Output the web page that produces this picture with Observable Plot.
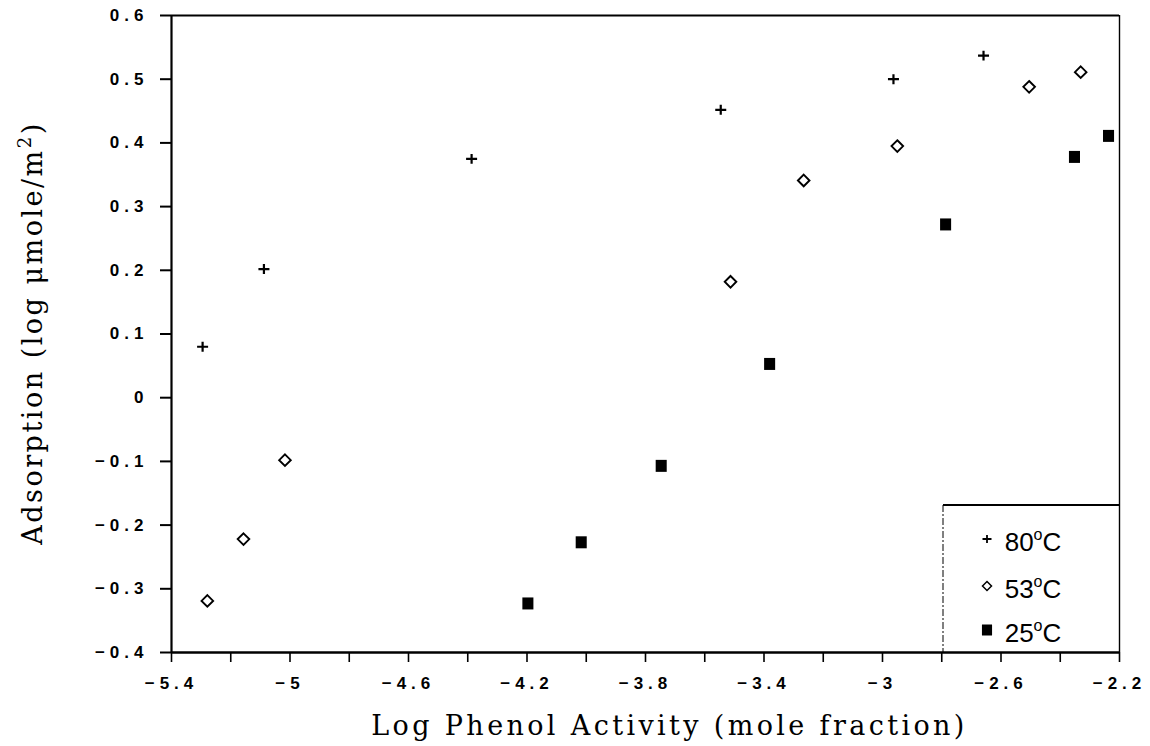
<!DOCTYPE html>
<html>
<head>
<meta charset="utf-8">
<script src="https://cdn.jsdelivr.net/npm/d3@7"></script>
<script src="https://cdn.jsdelivr.net/npm/@observablehq/plot@0.6"></script>
<style>
  html, body { margin: 0; padding: 0; background: white; }
  #chart { width: 1150px; height: 746px; }
</style>
</head>
<body>
<div id="chart"></div>
<script>
// ---- data ----
const x80 = [-5.295, -5.088, -4.387, -3.546, -2.963, -2.659];
const y80 = [0.080, 0.202, 0.375, 0.452, 0.500, 0.537];

const x53 = [-5.279, -5.157, -5.017, -3.513, -3.266, -2.950, -2.505, -2.331];
const y53 = [-0.319, -0.222, -0.098, 0.182, 0.341, 0.395, 0.488, 0.511];

const x25 = [-4.197, -4.017, -3.747, -3.381, -2.787, -2.352, -2.237];
const y25 = [-0.323, -0.227, -0.107, 0.053, 0.272, 0.378, 0.411];

const xDomain = [-5.4, -2.2];
const yDomain = [-0.4, 0.6];
const xTicks = [-5.4, -5, -4.6, -4.2, -3.8, -3.4, -3, -2.6, -2.2];
const xMinorTicks = [-5.2, -4.8, -4.4, -4.0, -3.6, -3.2, -2.8, -2.4];
const yTicks = [-0.4, -0.3, -0.2, -0.1, 0, 0.1, 0.2, 0.3, 0.4, 0.5, 0.6];

const legendLabels = ["80", "53", "25"];
const xTitle = "Log Phenol Activity (mole fraction)";
const yTitleMain = "Adsorption (log \u03bcmole/m";
const yTitleSup = "2";
const yTitleEnd = ")";

// ---- helpers ----
const fmt = d => (d < 0 ? "\u2212" : "") + String(Math.abs(d));
const toRows = (xs, ys) => xs.map((x, i) => ({x, y: ys[i]}));

const plusSym = {draw(ctx, size) {
  const r = Math.sqrt(size / Math.PI);
  ctx.moveTo(-r, 0); ctx.lineTo(r, 0);
  ctx.moveTo(0, -r * 0.9); ctx.lineTo(0, r * 0.9);
}};
const diamondSym = {draw(ctx, size) {
  const r = Math.sqrt(size / Math.PI);
  ctx.moveTo(0, -r); ctx.lineTo(r, 0); ctx.lineTo(0, r); ctx.lineTo(-r, 0); ctx.closePath();
}};
const squareSym = {draw(ctx, size) {
  const r = Math.sqrt(size / Math.PI);
  ctx.rect(-r * 0.92, -r, r * 1.84, r * 2);
}};

const chart = Plot.plot({
  width: 1150,
  height: 746,
  marginLeft: 171,
  marginRight: 31,
  marginTop: 15,
  marginBottom: 94,
  style: {background: "white", color: "black"},
  x: {domain: xDomain},
  y: {domain: yDomain},
  marks: [
    Plot.axisX(xMinorTicks, {tickSize: 10, tickFormat: () => "", strokeWidth: 1.6, label: null}),
    Plot.axisX(xTicks, {tickSize: 10, tickPadding: 14, tickFormat: fmt, strokeWidth: 1.6, label: null}),
    Plot.axisY(yTicks, {tickSize: 11, tickPadding: 12, tickFormat: fmt, strokeWidth: 2, label: null}),
    Plot.ruleY([yDomain[1]], {strokeWidth: 2.2}),
    Plot.ruleX([xDomain[1]], {strokeWidth: 1.4}),
    Plot.ruleX([xDomain[0]], {strokeWidth: 2.2}),
    Plot.ruleY([yDomain[0]], {strokeWidth: 2.6}),
    Plot.dot(toRows(x80, y80), {x: "x", y: "y", symbol: plusSym, r: 5.5, stroke: "black", fill: "none", strokeWidth: 2.2}),
    Plot.dot(toRows(x53, y53), {x: "x", y: "y", symbol: diamondSym, r: 5.8, stroke: "black", fill: "white", strokeWidth: 1.9}),
    Plot.dot(toRows(x25, y25), {x: "x", y: "y", symbol: squareSym, r: 6, stroke: "none", fill: "black"})
  ]
});
document.getElementById("chart").appendChild(chart);

const svg = d3.select(chart);

// tick label typography (bold, letter-spaced sans as in the reference)
svg.selectAll("[aria-label='x-axis tick label'], [aria-label='y-axis tick label']")
  .style("font-family", "'Liberation Sans', Arial, sans-serif")
  .style("font-size", "17px")
  .style("font-weight", "bold")
  .style("letter-spacing", "5px")
  .selectAll("text")
  .style("font-family", "'Liberation Sans', Arial, sans-serif")
  .style("font-size", "17px")
  .style("font-weight", "bold")
  .style("letter-spacing", "5px");

// ---- titles and legend (need superscripts) ----
const titleFont = "'DejaVu Serif', 'Liberation Serif', serif";

function fitSpacing(node, target) {
  const n = node.getNumberOfChars();
  const len = node.getComputedTextLength();
  if (n > 1) node.setAttribute("letter-spacing", ((target - len) / (n - 1)) + "px");
}

const xt = svg.append("text")
  .attr("x", 669.5).attr("y", 735)
  .attr("text-anchor", "middle")
  .attr("font-family", titleFont).attr("font-size", 27).attr("font-weight", "normal")
  .attr("letter-spacing", "0px").attr("fill", "black")
  .text(xTitle);
fitSpacing(xt.node(), 593);

const yt = svg.append("text")
  .attr("transform", "translate(42,333) rotate(-90)")
  .attr("text-anchor", "middle")
  .attr("font-family", titleFont).attr("font-size", 27).attr("font-weight", "normal")
  .attr("letter-spacing", "0px").attr("fill", "black");
yt.append("tspan").text(yTitleMain);
yt.append("tspan").attr("dy", -11).attr("font-size", 18).text(yTitleSup);
yt.append("tspan").attr("dy", 11).text(yTitleEnd);
fitSpacing(yt.node(), 421);

// legend box
const lg = svg.append("g");
lg.append("path").attr("d", "M943,505H1120").attr("stroke", "black").attr("stroke-width", 2).attr("fill", "none");
lg.append("path").attr("d", "M943,505V652").attr("stroke", "black").attr("stroke-width", 1).attr("stroke-dasharray", "7,2,2,2").attr("fill", "none");

const legendSyms = [plusSym, diamondSym, squareSym];
const legendRowY = [539, 586, 630];
legendLabels.forEach((lab, i) => {
  const sym = legendSyms[i];
  const size = i === 2 ? Math.PI * 5.5 * 5.5 : Math.PI * 4.5 * 4.5;
  lg.append("path")
    .attr("transform", `translate(987,${legendRowY[i]})`)
    .attr("d", d3.symbol(sym, size)())
    .attr("fill", i === 2 ? "black" : (i === 1 ? "white" : "none"))
    .attr("stroke", i === 2 ? "none" : "black")
    .attr("stroke-width", i === 0 ? 1.8 : 1.5);
  const t = lg.append("text")
    .attr("x", 1033).attr("y", legendRowY[i] + 12)
    .attr("font-family", "'Liberation Sans', Arial, sans-serif")
    .attr("font-size", 26).attr("font-weight", "normal")
    .attr("letter-spacing", "0px").attr("fill", "black");
  t.append("tspan").text(lab);
  t.append("tspan").attr("dy", -11).attr("font-size", 16).text("o");
  t.append("tspan").attr("dy", 11).text("C");
});
</script>
</body>
</html>
